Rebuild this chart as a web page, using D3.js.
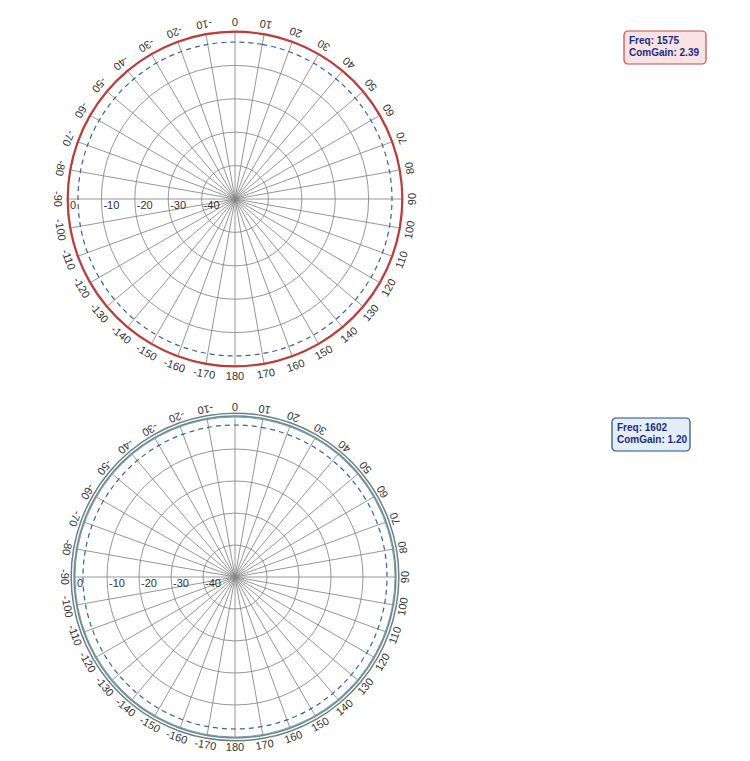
<!DOCTYPE html>
<html><head><meta charset="utf-8">
<script src="https://cdn.jsdelivr.net/npm/d3@7"></script>
<style>body{margin:0;background:#fff}</style>
</head><body>
<svg id="chart" width="750" height="761"></svg>
<script>
const angles = d3.range(0, 360, 10);
const ringLevels = [0, -10, -20, -30, -40];
// measured gain (dB) per 10 deg, starting at 0 going clockwise
const gainTop = [0.1,0.1,0.1,0.1,0.1,0.1,0.1,0.1,0.1,0.1,0.1,0.1,0.1,0.1,0.1,0.1,0.1,0.1,0.1,0.1,0.1,0.1,0.1,0.1,0.1,0.1,0.1,0.1,0.1,0.1,0.1,0.1,0.1,0.1,0.1,0.1];
const refTop = angles.map(() => -3);
const gainBottomA = angles.map(() => 0.3);
const gainBottomB = angles.map(() => 1.2);
const refBottom = angles.map(() => -2.5);

const svg = d3.select("#chart");

function polar(cx, cy, r0, series, legend) {
  const g = svg.append("g").attr("transform", `translate(${cx},${cy})`);
  const r = d3.scaleLinear().domain([-50, 0]).range([0, r0]);
  const rad = d => d * Math.PI / 180;

  g.selectAll(".ring").data(ringLevels).join("circle")
    .attr("r", d => r(d)).attr("fill", "none").attr("stroke", "#8a8a8a").attr("stroke-width", 0.9);
  g.selectAll(".spoke").data(angles).join("line")
    .attr("x2", d => r(0) * Math.sin(rad(d))).attr("y2", d => -r(0) * Math.cos(rad(d)))
    .attr("stroke", "#8a8a8a").attr("stroke-width", 0.9);

  g.selectAll(".rl").data(ringLevels).join("text")
    .attr("x", d => -r(d) + 2).attr("y", 10)
    .attr("font-family", "Liberation Sans, Arial").attr("font-size", 11).attr("fill", "#333")
    .text(d => d);

  g.selectAll(".al").data(angles).join("text")
    .attr("transform", d => {
      const a = rad(d), rr = r0 + 10;
      return `translate(${rr * Math.sin(a)},${-rr * Math.cos(a)}) rotate(${d + 180})`;
    })
    .attr("text-anchor", "middle").attr("dominant-baseline", "central")
    .attr("font-family", "Liberation Sans, Arial").attr("font-size", 11).attr("fill", "#333")
    .text(d => d <= 180 ? d : d - 360);

  const line = d3.lineRadial().angle((d, i) => rad(angles[i])).radius(d => r(d)).curve(d3.curveCardinalClosed);
  series.forEach(s => {
    g.append("path").attr("d", line(s.values)).attr("fill", "none")
      .attr("stroke", s.color).attr("stroke-width", s.width)
      .attr("stroke-dasharray", s.dash || null);
  });

  const lg = svg.append("g").attr("transform", `translate(${legend.x},${legend.y})`);
  lg.append("rect").attr("width", legend.w).attr("height", 33).attr("rx", 4)
    .attr("fill", legend.fill).attr("stroke", legend.stroke).attr("stroke-width", 1.2);
  lg.selectAll("text").data(legend.lines).join("text")
    .attr("x", 5).attr("y", (d, i) => 13 + i * 12)
    .attr("font-family", "Liberation Sans, Arial").attr("font-size", 10).attr("font-weight", "bold")
    .attr("fill", "#1a2a8a").text(d => d);
}

polar(235, 199, 167, [
  { values: refTop, color: "#3a5fa8", width: 1.2, dash: "5,4" },
  { values: gainTop, color: "#c03a3a", width: 2.2 }
], { x: 624, y: 31, w: 82, fill: "#fbe3e3", stroke: "#c84a4a", lines: ["Freq: 1575", "ComGain: 2.39"] });

polar(235, 577, 160, [
  { values: refBottom, color: "#3a5fa8", width: 1.2, dash: "5,4" },
  { values: gainBottomA, color: "#5f8f9a", width: 1.5 },
  { values: gainBottomB, color: "#6f7f86", width: 1.5 }
], { x: 612, y: 418, w: 78, fill: "#e3eef8", stroke: "#2a4a80", lines: ["Freq: 1602", "ComGain: 1.20"] });
</script>
</body></html>
